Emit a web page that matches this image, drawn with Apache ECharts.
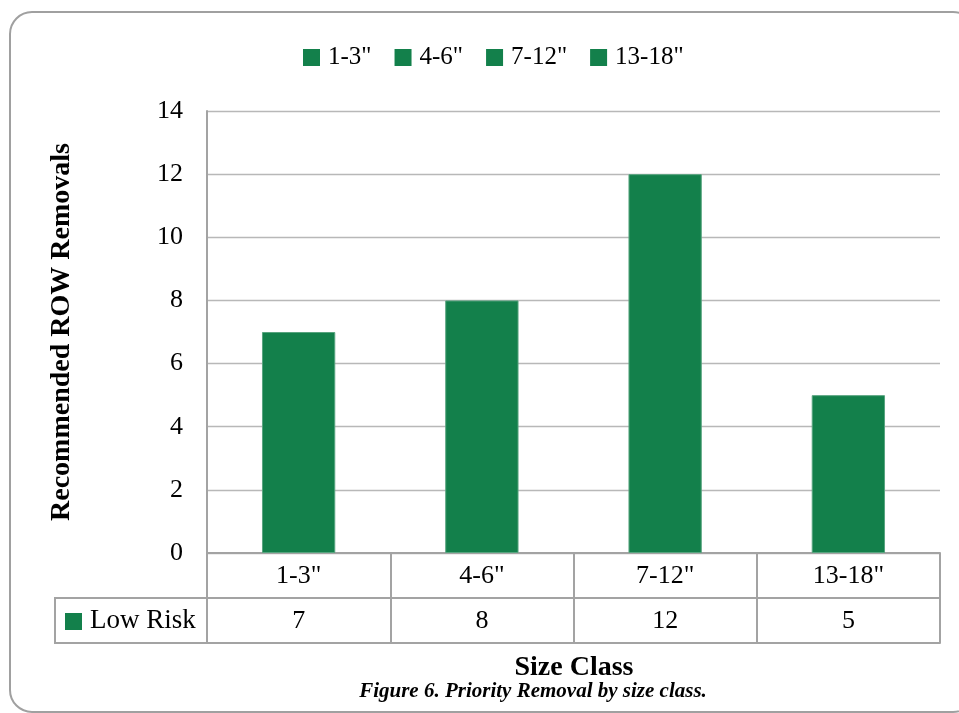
<!DOCTYPE html>
<html>
<head>
<meta charset="utf-8">
<script src="https://cdn.jsdelivr.net/npm/echarts@6/dist/echarts.min.js"></script>
<style>
html,body{margin:0;padding:0;background:#fff;}
#chart{width:959px;height:713px;}
</style>
</head>
<body>
<div id="chart"></div>
<script>
var categories = ['1-3"', '4-6"', '7-12"', '13-18"'];
var values = [7, 8, 12, 5];
var seriesLabel = 'Low Risk';
var yTicks = {min: 0, max: 14, interval: 2};
var yTitle = 'Recommended ROW Removals';
var xTitle = 'Size Class';
var caption = 'Figure 6. Priority Removal by size class.';

var FONT = '"Liberation Serif", "Times New Roman", serif';
var GREEN = '#13804b';
var LINE = '#a3a3a3';

var chart = echarts.init(document.getElementById('chart'), null, {renderer: 'canvas'});

var series = categories.map(function (c, i) {
  return {
    name: c,
    type: 'bar',
    stack: 'all',
    xAxisIndex: 0,
    barCategoryGap: '60%',
    itemStyle: {color: GREEN, borderColor: '#58a47f', borderWidth: 1},
    data: values.map(function (v, j) { return j === i ? v : '-'; })
  };
});

var option = {
  animation: false,
  backgroundColor: '#fff',
  textStyle: {fontFamily: FONT},
  legend: {
    data: categories,
    left: 298,
    top: 40,
    icon: 'rect',
    itemWidth: 17,
    itemHeight: 17,
    itemGap: 23,
    itemStyle: {borderWidth: 0},
    textStyle: {fontFamily: FONT, fontSize: 25, color: '#000', padding: [0, 0, 0, 3]}
  },
  grid: {left: 207, right: 19, top: 111, bottom: 160, containLabel: false},
  xAxis: [
    {
      type: 'category',
      data: categories,
      position: 'bottom',
      axisLine: {show: true, lineStyle: {color: LINE, width: 2}},
      axisTick: {show: true, length: 45, interval: 0, lineStyle: {color: LINE, width: 2}},
      axisLabel: {fontFamily: FONT, fontSize: 26, color: '#000', margin: 23, verticalAlign: 'middle', interval: 0},
      splitLine: {show: false}
    },
    {
      type: 'category',
      data: values.map(String),
      position: 'bottom',
      offset: 45,
      axisLine: {show: true, lineStyle: {color: LINE, width: 2}},
      axisTick: {show: true, length: 45, interval: 0, lineStyle: {color: LINE, width: 2}},
      axisLabel: {fontFamily: FONT, fontSize: 26, color: '#000', margin: 23, verticalAlign: 'middle', interval: 0},
      splitLine: {show: false}
    },
    {
      type: 'category',
      data: categories,
      position: 'bottom',
      offset: 90,
      axisLine: {show: true, lineStyle: {color: LINE, width: 2}},
      axisTick: {show: false},
      axisLabel: {show: false},
      splitLine: {show: false}
    }
  ],
  yAxis: {
    type: 'value',
    min: yTicks.min,
    max: yTicks.max,
    interval: yTicks.interval,
    name: yTitle,
    nameLocation: 'middle',
    nameGap: 131,
    nameTextStyle: {fontFamily: FONT, fontSize: 28, fontWeight: 'bold', color: '#000'},
    axisLine: {show: true, lineStyle: {color: LINE, width: 2}},
    axisTick: {show: false},
    axisLabel: {fontFamily: FONT, fontSize: 26, color: '#000', margin: 24},
    splitLine: {show: true, lineStyle: {color: '#b8b8b8', width: 1.3}}
  },
  graphic: [
    {
      type: 'rect', silent: true, z: -1,
      shape: {x: 10, y: 12, width: 965, height: 700, r: 22},
      style: {fill: 'none', stroke: '#a0a0a0', lineWidth: 2}
    },
    {
      type: 'rect', silent: true,
      shape: {x: 55, y: 598, width: 152, height: 45},
      style: {fill: 'none', stroke: LINE, lineWidth: 2}
    },
    {
      type: 'rect', silent: true,
      shape: {x: 65, y: 613, width: 17, height: 17},
      style: {fill: GREEN}
    },
    {
      type: 'text', silent: true,
      x: 90, y: 621,
      style: {text: seriesLabel, font: '27px ' + FONT, fill: '#000', textVerticalAlign: 'middle', textAlign: 'left'}
    },
    {
      type: 'text', silent: true,
      x: 574, y: 668,
      style: {text: xTitle, font: 'bold 28px ' + FONT, fill: '#000', textVerticalAlign: 'middle', textAlign: 'center'}
    },
    {
      type: 'text', silent: true,
      x: 533, y: 692,
      style: {text: caption, font: 'italic bold 21px ' + FONT, fill: '#000', textVerticalAlign: 'middle', textAlign: 'center'}
    }
  ],
  series: series
};

chart.setOption(option);
</script>
</body>
</html>
